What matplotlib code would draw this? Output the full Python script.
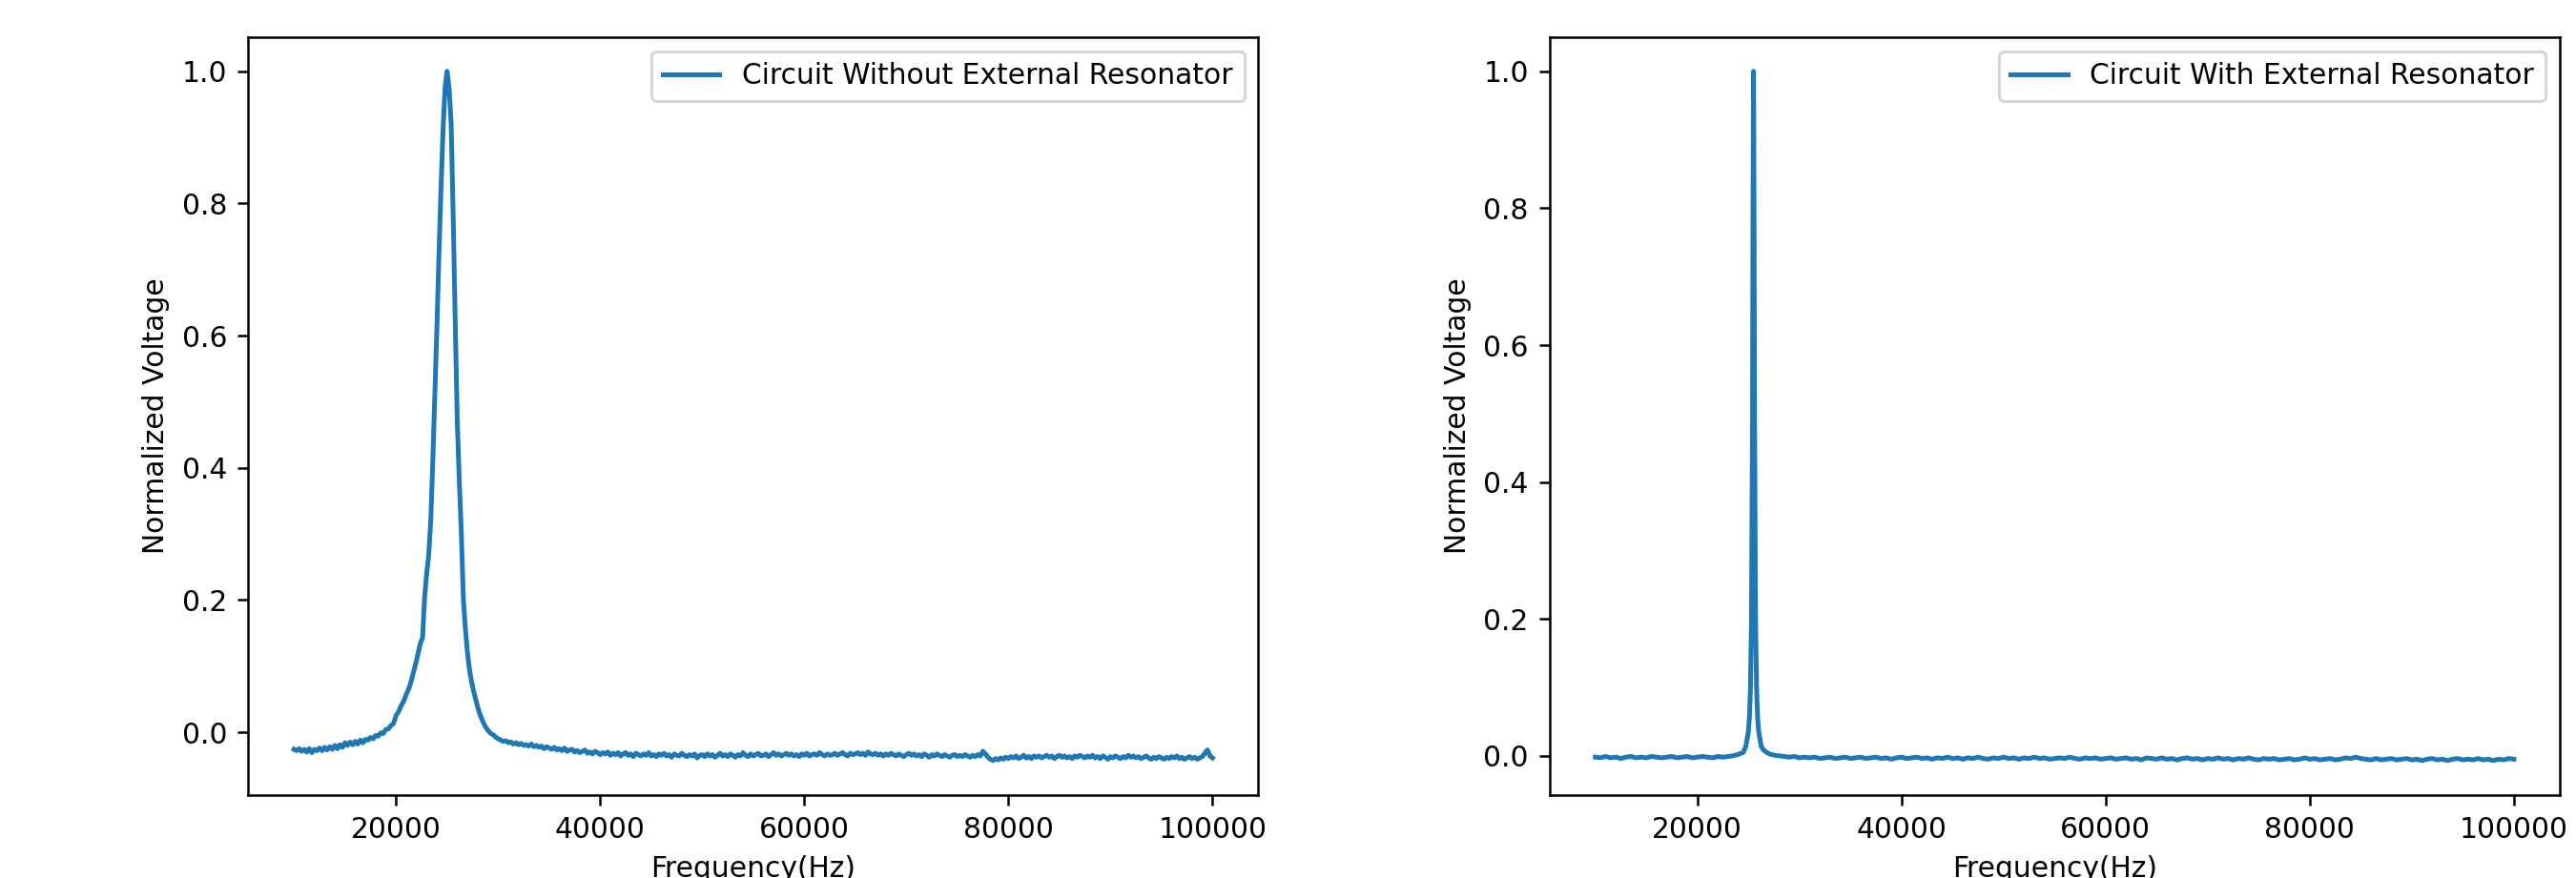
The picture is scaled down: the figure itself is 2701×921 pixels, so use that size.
import numpy as np
import matplotlib
matplotlib.use('Agg')
import matplotlib.pyplot as plt

plt.rcParams['font.size'] = 9.5

# Frequency grids (Hz)
left_low_freq = np.arange(10000, 22000, 250)
left_peak_freq = np.arange(22000, 30001, 200)
left_high_freq = np.arange(30250, 100001, 250)

# Circuit without external resonator (normalized voltage)
left_low_volt = [
    -0.026, -0.028, -0.025, -0.029, -0.026, -0.030, -0.025, -0.031, -0.026, -0.028,
    -0.024, -0.028, -0.023, -0.027, -0.022, -0.026, -0.020, -0.025, -0.019, -0.023,
    -0.016, -0.020, -0.015, -0.019, -0.014, -0.018, -0.012, -0.016, -0.011, -0.012,
    -0.008, -0.010, -0.005, -0.006, -0.001, -0.002, 0.004, 0.005, 0.010, 0.013,
    0.025, 0.031, 0.040, 0.047, 0.057, 0.066, 0.078, 0.093,
]
left_peak_volt = [
    0.108, 0.122, 0.135, 0.143, 0.205, 0.240, 0.268, 0.320, 0.410, 0.510,
    0.610, 0.720, 0.820, 0.910, 0.975, 1.000, 0.975, 0.920, 0.780, 0.620,
    0.470, 0.380, 0.300, 0.200, 0.155, 0.120, 0.094, 0.076, 0.062, 0.050,
    0.038, 0.028, 0.020, 0.013, 0.007, 0.003, -0.001, -0.003, -0.005, -0.008,
    -0.010,
]
left_high_volt = [
    -0.012, -0.014, -0.013, -0.016, -0.015, -0.018, -0.016, -0.019, -0.017, -0.020,
    -0.019, -0.021, -0.018, -0.022, -0.020, -0.023, -0.021, -0.025, -0.022, -0.024,
    -0.026, -0.023, -0.027, -0.025, -0.028, -0.024, -0.029, -0.027, -0.026, -0.030,
    -0.028, -0.031, -0.029, -0.027, -0.032, -0.030, -0.033, -0.029, -0.031, -0.034,
    -0.031, -0.033, -0.030, -0.035, -0.032, -0.034, -0.031, -0.036, -0.033, -0.031,
    -0.035, -0.033, -0.037, -0.032, -0.034, -0.036, -0.033, -0.035, -0.031, -0.036,
    -0.034, -0.037, -0.033, -0.035, -0.032, -0.036, -0.034, -0.038, -0.033, -0.035,
    -0.036, -0.032, -0.035, -0.037, -0.034, -0.036, -0.033, -0.039, -0.035, -0.034,
    -0.037, -0.033, -0.036, -0.034, -0.038, -0.035, -0.032, -0.036, -0.034, -0.037,
    -0.033, -0.035, -0.038, -0.034, -0.036, -0.031, -0.035, -0.037, -0.033, -0.036,
    -0.034, -0.032, -0.036, -0.035, -0.033, -0.037, -0.034, -0.031, -0.035, -0.033,
    -0.036, -0.034, -0.032, -0.035, -0.033, -0.036, -0.034, -0.037, -0.033, -0.035,
    -0.032, -0.036, -0.034, -0.033, -0.035, -0.031, -0.034, -0.036, -0.033, -0.035,
    -0.034, -0.032, -0.035, -0.033, -0.031, -0.034, -0.036, -0.032, -0.034, -0.033,
    -0.031, -0.034, -0.032, -0.035, -0.030, -0.033, -0.034, -0.032, -0.035, -0.033,
    -0.036, -0.033, -0.035, -0.032, -0.034, -0.036, -0.033, -0.035, -0.037, -0.034,
    -0.032, -0.035, -0.033, -0.036, -0.034, -0.037, -0.033, -0.035, -0.038, -0.034,
    -0.036, -0.033, -0.035, -0.037, -0.034, -0.036, -0.038, -0.035, -0.034, -0.037,
    -0.035, -0.037, -0.034, -0.036, -0.038, -0.035, -0.037, -0.034, -0.036, -0.029,
    -0.033, -0.038, -0.041, -0.043, -0.040, -0.042, -0.039, -0.041, -0.038, -0.040,
    -0.037, -0.039, -0.036, -0.040, -0.038, -0.035, -0.039, -0.037, -0.040, -0.036,
    -0.038, -0.036, -0.039, -0.037, -0.035, -0.038, -0.036, -0.040, -0.037, -0.035,
    -0.038, -0.036, -0.039, -0.037, -0.040, -0.036, -0.038, -0.035, -0.037, -0.039,
    -0.036, -0.038, -0.035, -0.039, -0.037, -0.040, -0.036, -0.038, -0.041, -0.037,
    -0.039, -0.036, -0.038, -0.040, -0.037, -0.039, -0.035, -0.038, -0.036, -0.039,
    -0.037, -0.040, -0.038, -0.036, -0.039, -0.041, -0.038, -0.040, -0.037, -0.039,
    -0.041, -0.038, -0.040, -0.037, -0.039, -0.036, -0.040, -0.038, -0.041, -0.039,
    -0.037, -0.040, -0.038, -0.041, -0.039, -0.037, -0.032, -0.027, -0.036, -0.039,
]

# Circuit with external resonator
right_low_freq = np.arange(10000, 25000, 500)
right_peak_freq = [24750, 25000, 25100, 25200, 25300, 25400, 25450, 25500,
                   25550, 25600, 25700, 25800, 25900, 26000, 26250]
right_high_freq = np.arange(26500, 100001, 500)

right_low_volt = [
    -0.002, -0.003, -0.001, -0.003, -0.002, -0.004, -0.002, -0.001, -0.003, -0.002,
    -0.003, -0.001, -0.002, -0.003, -0.002, -0.001, -0.003, -0.002, -0.001, -0.003,
    -0.002, -0.001, -0.002, -0.003, -0.001, -0.002, -0.001, 0.000, 0.002, 0.005,
]
right_peak_volt = [0.014, 0.036, 0.057, 0.098, 0.198, 0.498, 0.798, 1.000,
                   0.798, 0.498, 0.198, 0.098, 0.057, 0.036, 0.014]
right_high_volt = [
    0.008, 0.003, 0.001, 0.000, -0.001, -0.002, -0.001, -0.003, -0.002, -0.003,
    -0.002, -0.004, -0.003, -0.002, -0.004, -0.003, -0.002, -0.004, -0.003, -0.002,
    -0.004, -0.003, -0.002, -0.004, -0.003, -0.005, -0.003, -0.002, -0.004, -0.003,
    -0.002, -0.004, -0.003, -0.005, -0.003, -0.004, -0.002, -0.004, -0.003, -0.005,
    -0.003, -0.004, -0.002, -0.004, -0.005, -0.003, -0.004, -0.002, -0.004, -0.003,
    -0.005, -0.003, -0.004, -0.002, -0.004, -0.003, -0.005, -0.004, -0.003, -0.004,
    -0.002, -0.004, -0.005, -0.003, -0.004, -0.003, -0.005, -0.004, -0.003, -0.005,
    -0.004, -0.003, -0.005, -0.004, -0.006, -0.003, -0.004, -0.005, -0.003, -0.005,
    -0.004, -0.006, -0.004, -0.003, -0.005, -0.004, -0.006, -0.004, -0.005, -0.003,
    -0.005, -0.004, -0.006, -0.004, -0.005, -0.003, -0.005, -0.006, -0.004, -0.005,
    -0.004, -0.006, -0.005, -0.004, -0.006, -0.005, -0.003, -0.005, -0.004, -0.006,
    -0.005, -0.004, -0.006, -0.005, -0.003, -0.004, -0.002, -0.004, -0.005, -0.006,
    -0.004, -0.006, -0.005, -0.004, -0.006, -0.005, -0.004, -0.006, -0.005, -0.007,
    -0.005, -0.004, -0.006, -0.005, -0.007, -0.005, -0.004, -0.006, -0.005, -0.006,
    -0.004, -0.006, -0.005, -0.007, -0.005, -0.006, -0.004, -0.005,
]

freq_without = np.concatenate([left_low_freq, left_peak_freq, left_high_freq])
volt_without = np.concatenate([left_low_volt, left_peak_volt, left_high_volt])
freq_with = np.concatenate([right_low_freq, right_peak_freq, right_high_freq])
volt_with = np.concatenate([right_low_volt, right_peak_volt, right_high_volt])

fig, (ax1, ax2) = plt.subplots(1, 2, figsize=(2701 / 225, 921 / 225))
fig.subplots_adjust(left=0.0963, right=0.9937, bottom=0.0945, top=0.958, wspace=0.288)

ax1.plot(freq_without, volt_without, lw=1.6, label='Circuit Without External Resonator')
ax1.set_xlabel('Frequency(Hz)')
ax1.set_ylabel('Normalized Voltage')
ax1.legend(loc='upper right')

ax2.plot(freq_with, volt_with, lw=1.6, label='Circuit With External Resonator')
ax2.set_xlabel('Frequency(Hz)')
ax2.set_ylabel('Normalized Voltage')
ax2.legend(loc='upper right')

fig.savefig('out.png', dpi=225)
